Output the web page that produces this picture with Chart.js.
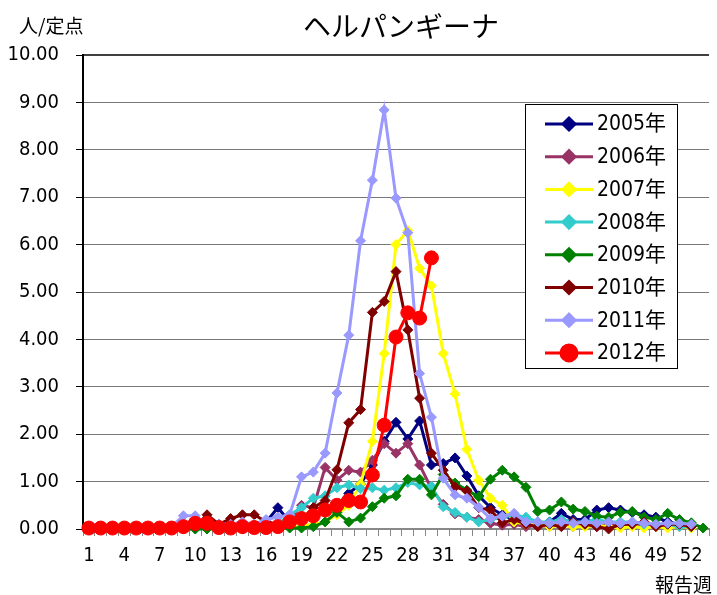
<!DOCTYPE html>
<html>
<head>
<meta charset="utf-8">
<script src="https://cdn.jsdelivr.net/npm/chart.js@4"></script>
<style>
  html, body { margin: 0; padding: 0; background: #fff; }
  #wrap { width: 717px; height: 595px; }
</style>
</head>
<body>
<div id="wrap"><canvas id="chart" width="717" height="595"></canvas></div>
<script>
const weeks = [1, 2, 3, 4, 5, 6, 7, 8, 9, 10, 11, 12, 13, 14, 15, 16, 17, 18, 19, 20,
  21, 22, 23, 24, 25, 26, 27, 28, 29, 30, 31, 32, 33, 34, 35, 36, 37, 38, 39, 40,
  41, 42, 43, 44, 45, 46, 47, 48, 49, 50, 51, 52, 53];

const y2005 = [0, 0, 0, 0, 0, 0, 0, 0.02, 0.05, 0.05, 0.05, 0.05, 0.1, 0.1, 0.05, 0.15, 0.45, 0.15, 0.2, 0.3,
  0.4, 0.5, 0.75, 0.95, 1.35, 1.85, 2.25, 1.9, 2.28, 1.35, 1.38, 1.5, 1.12, 0.7, 0.45, 0.3, 0.2, 0.15, 0.1, 0.15,
  0.33, 0.2, 0.2, 0.4, 0.45, 0.4, 0.35, 0.3, 0.25, 0.15, 0.1, 0.1, null];
const y2006 = [0, 0, 0, 0, 0, 0, 0, 0, 0.02, 0.02, 0.05, 0.02, 0.05, 0.05, 0.05, 0.05, 0.1, 0.2, 0.5, 0.45,
  1.3, 1.03, 1.24, 1.2, 1.45, 1.8, 1.6, 1.8, 1.35, 0.85, 0.52, 0.32, 0.25, 0.2, 0.12, 0.08, 0.1, 0.05, 0.08, 0.05,
  0.1, 0.05, 0.08, 0.05, 0.1, 0.05, 0.1, 0.05, 0.08, 0.05, 0.05, 0.05, null];
const y2007 = [0, 0, 0, 0, 0, 0, 0, 0, 0, 0.02, 0.02, 0.02, 0.02, 0.02, 0.02, 0.02, 0.05, 0.05, 0.05, 0.1,
  0.15, 0.3, 0.5, 0.95, 1.85, 3.7, 6.0, 6.3, 5.5, 5.13, 3.7, 2.85, 1.68, 1.03, 0.65, 0.5, 0.15, 0.1, 0.1, 0.05,
  0.08, 0.05, 0.05, 0.08, 0.05, 0.02, 0.05, 0.02, 0.05, 0.02, 0.05, 0.02, null];
const y2008 = [0, 0, 0, 0, 0, 0, 0, 0, 0, 0, 0.02, 0.02, 0.02, 0.02, 0.05, 0.05, 0.1, 0.3, 0.45, 0.65,
  0.7, 0.87, 0.93, 0.85, 0.87, 0.82, 0.87, 0.98, 0.93, 0.9, 0.47, 0.35, 0.25, 0.15, 0.2, 0.25, 0.3, 0.25, 0.15, 0.15,
  0.2, 0.15, 0.15, 0.2, 0.15, 0.15, 0.15, 0.1, 0.1, 0.1, 0.05, 0.05, null];
const y2009 = [0, 0, 0, 0, 0, 0, 0, 0, 0, 0, 0, 0, 0, 0, 0, 0, 0.02, 0.02, 0.02, 0.05,
  0.15, 0.35, 0.15, 0.23, 0.47, 0.65, 0.7, 1.05, 1.05, 0.72, 1.15, 0.97, 0.82, 0.68, 1.05, 1.24, 1.1, 0.88, 0.37, 0.4,
  0.57, 0.42, 0.37, 0.27, 0.25, 0.35, 0.37, 0.25, 0.2, 0.33, 0.2, 0.13, 0.02];
const y2010 = [0, 0, 0, 0, 0, 0, 0, 0.02, 0.05, 0.05, 0.3, 0.1, 0.22, 0.3, 0.3, 0.15, 0.1, 0.1, 0.2, 0.45,
  0.6, 1.25, 2.24, 2.52, 4.57, 4.8, 5.43, 4.2, 2.76, 1.6, 1.24, 0.89, 0.8, 0.45, 0.4, 0.13, 0.2, 0.1, 0.05, 0.1,
  0.05, 0.15, 0.1, 0.05, 0.0, 0.1, 0.1, 0.15, 0.05, 0.1, 0.1, 0.05, null];
const y2011 = [0, 0, 0, 0, 0, 0, 0.02, 0.05, 0.28, 0.28, 0.1, 0.1, 0.1, 0.15, 0.1, 0.2, 0.25, 0.3, 1.1, 1.2,
  1.6, 2.87, 4.09, 6.08, 7.36, 8.84, 6.98, 6.25, 3.28, 2.36, 1.07, 0.72, 0.65, 0.46, 0.22, 0.27, 0.33, 0.15, 0.15, 0.12,
  0.15, 0.12, 0.15, 0.12, 0.15, 0.12, 0.15, 0.12, 0.1, 0.12, 0.12, 0.1, null];
const y2012 = [0.02, 0.02, 0.02, 0.02, 0.02, 0.02, 0.02, 0.02, 0.05, 0.12, 0.12, 0.03, 0.02, 0.05, 0.03, 0.03, 0.05, 0.15, 0.22, 0.28,
  0.4, 0.5, 0.6, 0.57, 1.14, 2.19, 4.05, 4.56, 4.45, 5.72];

const seriesNames = ["2005年", "2006年", "2007年", "2008年", "2009年", "2010年", "2011年", "2012年"];
const seriesValues = [y2005, y2006, y2007, y2008, y2009, y2010, y2011, y2012];
const colors = ["#000080", "#993366", "#FFFF00", "#33CCCC", "#008000", "#800000", "#9999FF", "#FF0000"];
const yTicks = [0, 1, 2, 3, 4, 5, 6, 7, 8, 9, 10];

const narrow = "'Liberation Sans Narrow', 'DejaVu Sans Condensed', 'Noto Sans CJK JP', sans-serif";
const cjk = "'Noto Sans CJK JP', sans-serif";

const datasets = seriesNames.map((name, i) => {
  const isCircle = i === 7;
  return {
    label: name,
    data: seriesValues[i],
    borderColor: colors[i],
    backgroundColor: colors[i],
    pointBackgroundColor: colors[i],
    pointBorderColor: colors[i],
    borderWidth: 3,
    pointStyle: isCircle ? "circle" : "rectRot",
    pointRadius: isCircle ? 7 : 5,
    pointBorderWidth: 1,
    tension: 0,
    clip: false,
    order: 7 - i,
  };
});

// title, unit, axis title, top border, legend box
const decorations = {
  id: "decorations",
  afterDraw(chart) {
    const c = chart.ctx;
    const area = chart.chartArea;
    c.save();

    c.strokeStyle = "#000";
    c.lineWidth = 1.5;
    c.beginPath();
    c.moveTo(area.left, area.top);
    c.lineTo(area.right, area.top);
    c.stroke();

    c.fillStyle = "#000";
    c.textBaseline = "middle";
    c.textAlign = "center";
    c.font = "28px " + cjk;
    c.fillText("ヘルパンギーナ", 401, 26);

    c.textAlign = "left";
    c.font = "19px " + cjk;
    c.fillText("人/定点", 19, 26);

    c.font = "19px " + cjk;
    c.fillText("報告週", 655, 585);

    // legend
    const bx = 525, by = 104, bw = 152, bh = 264;
    c.fillStyle = "#fff";
    c.fillRect(bx, by, bw, bh);
    c.strokeStyle = "#000";
    c.lineWidth = 1;
    c.strokeRect(bx + 0.5, by + 0.5, bw, bh);

    chart.data.datasets.forEach((ds, i) => {
      const y = 124 + i * 32.7;
      c.strokeStyle = ds.borderColor;
      c.lineWidth = 3;
      c.beginPath();
      c.moveTo(545, y);
      c.lineTo(593, y);
      c.stroke();
      Chart.helpers.drawPoint(c, {
        pointStyle: ds.pointStyle,
        radius: ds.pointRadius + 1,
        rotation: 0,
        borderWidth: 1,
      }, 569, y);
      c.fillStyle = ds.pointBackgroundColor;
      c.strokeStyle = ds.pointBorderColor;
      c.lineWidth = 1;
      c.beginPath();
      if (ds.pointStyle === "circle") {
        c.arc(569, y, ds.pointRadius + 1, 0, Math.PI * 2);
      } else {
        const r = ds.pointRadius + 1;
        c.moveTo(569 - r, y);
        c.lineTo(569, y - r);
        c.lineTo(569 + r, y);
        c.lineTo(569, y + r);
        c.closePath();
      }
      c.fill();
      c.stroke();
      c.fillStyle = "#000";
      c.font = "21px " + narrow;
      c.textAlign = "left";
      c.fillText(ds.label, 597, y + 1);
    });
    c.restore();
  },
};

const config = {
  type: "line",
  data: {
    labels: weeks,
    datasets: datasets,
  },
  options: {
    responsive: false,
    animation: false,
    layout: {
      padding: { top: 55, left: 0, right: 0, bottom: 0 },
    },
    plugins: {
      legend: { display: false },
      tooltip: { enabled: false },
    },
    scales: {
      x: {
        type: "category",
        offset: true,
        afterFit: (scale) => {
          scale.height = 66;
        },
        border: { display: true, color: "#888", width: 2 },
        grid: {
          offset: true,
          drawOnChartArea: false,
          drawTicks: true,
          tickLength: 7,
          tickColor: "#888",
          tickWidth: 1,
        },
        ticks: {
          autoSkip: false,
          maxRotation: 0,
          padding: 8,
          color: "#000",
          font: { family: narrow, size: 20 },
          callback: function (value, index) {
            return index % 3 === 0 && index < 52 ? String(weeks[index]) : "";
          },
        },
      },
      y: {
        min: 0,
        max: 10,
        afterFit: (scale) => {
          scale.width = 83;
        },
        afterBuildTicks: (scale) => {
          scale.ticks = yTicks.map((v) => ({ value: v }));
        },
        border: { display: true, color: "#000", width: 2 },
        grid: {
          color: (ctx) => (ctx.tick && (ctx.tick.value === 0 || ctx.tick.value === 10) ? "rgba(0,0,0,0)" : "#777"),
          lineWidth: 1,
          borderDash: [45, 15],
          drawTicks: true,
          tickLength: 7,
          tickColor: "#000",
          tickBorderDash: [],
          tickWidth: 1,
        },
        ticks: {
          padding: 17,
          color: "#000",
          font: { family: narrow, size: 20 },
          callback: (value) => Number(value).toFixed(2),
        },
      },
    },
  },
  plugins: [decorations],
};

const chart = new Chart(document.getElementById("chart").getContext("2d"), config);
</script>
</body>
</html>
